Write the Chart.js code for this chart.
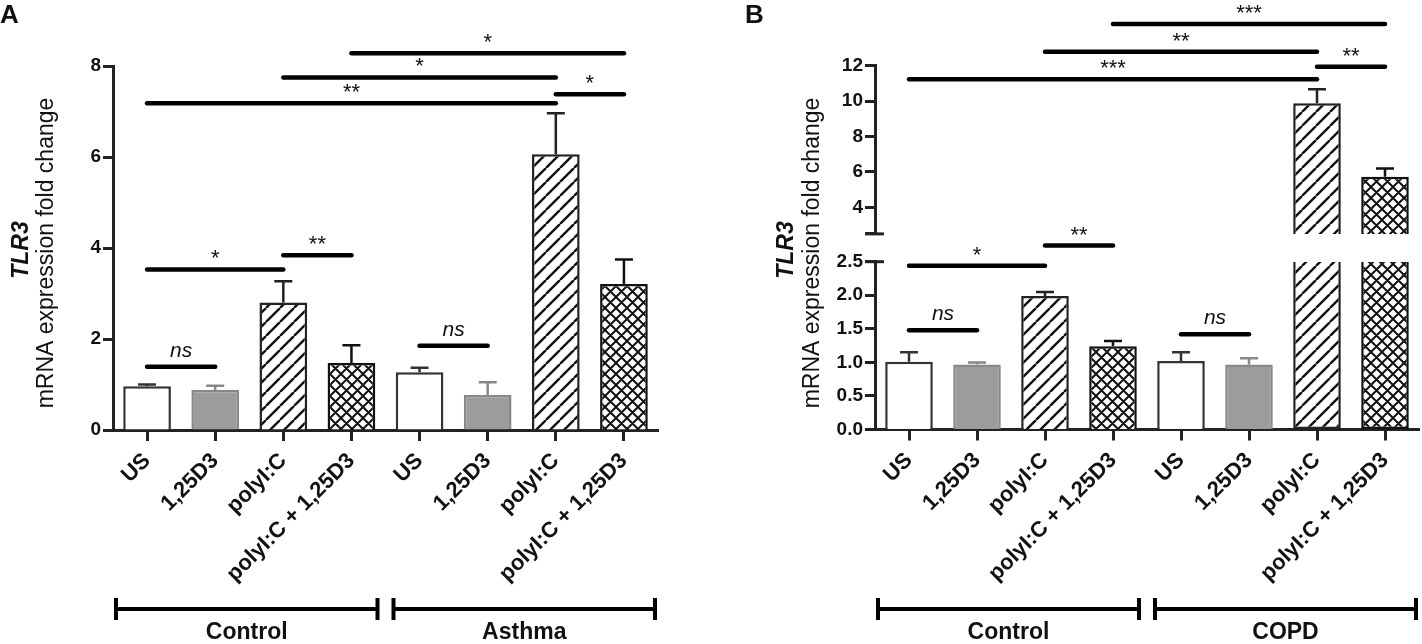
<!DOCTYPE html>
<html>
<head>
<meta charset="utf-8">
<script src="https://cdn.jsdelivr.net/npm/chart.js"></script>
<style>
  body { margin: 0; background: #fff; }
  #wrap { position: relative; width: 1422px; height: 644px; overflow: hidden; }
  canvas { position: absolute; top: 0; }
</style>
</head>
<body>
<div id="wrap">
  <canvas id="chartA" width="700" height="644" style="left:0"></canvas>
  <canvas id="chartBHigh" width="722" height="644" style="left:700px"></canvas>
  <canvas id="chartBLow" width="722" height="644" style="left:700px"></canvas>
</div>
<script>
// ---- data ----
const categories = ['US', '1,25D3', 'polyI:C', 'polyI:C + 1,25D3', 'US', '1,25D3', 'polyI:C', 'polyI:C + 1,25D3'];
const groupsA = ['Control', 'Asthma'];
const groupsB = ['Control', 'COPD'];

const meanA = [0.96, 0.88, 2.80, 1.47, 1.27, 0.77, 6.06, 3.21];
const errA  = [0.04, 0.09, 0.47, 0.39, 0.10, 0.28, 0.90, 0.54];
const meanB = [1.01, 0.97, 1.99, 1.24, 1.02, 0.97, 9.88, 5.73];
const errB  = [0.14, 0.03, 0.06, 0.08, 0.13, 0.09, 0.79, 0.47];

const ticksA = [0, 2, 4, 6, 8];
const ticksBLow = [0, 0.5, 1, 1.5, 2, 2.5];
const ticksBHigh = [2.5, 4, 6, 8, 10, 12];

// [from index, to index, y value, label]
const sigA = [
  [0, 1, 1.39, 'ns'], [0, 2, 3.53, '*'], [2, 3, 3.84, '**'], [4, 5, 1.85, 'ns'],
  [0, 6, 7.18, '**'], [2, 6, 7.75, '*'], [3, 7, 8.28, '*'], [6, 7, 7.38, '*']
];
const sigB = [
  [0, 1, 1.48, 'ns'], [0, 2, 2.44, '*'], [2, 3, 2.74, '**'], [4, 5, 1.42, 'ns'],
  [0, 6, 11.23, '***'], [2, 6, 12.79, '**'], [3, 7, 14.36, '***'], [6, 7, 11.94, '**']
];

// ---- styling ----
const FONT = '"Liberation Sans", Arial, Helvetica, sans-serif';

function makePattern(size, cross) {
  const c = document.createElement('canvas');
  c.width = c.height = size;
  const g = c.getContext('2d');
  g.fillStyle = '#fff';
  g.fillRect(0, 0, size, size);
  g.strokeStyle = '#111';
  g.lineWidth = cross ? 2 : 2.4;
  g.beginPath();
  for (let k = -1; k <= 1; k++) {
    g.moveTo(k * size, size); g.lineTo(k * size + size, 0);
    if (cross) { g.moveTo(k * size, 0); g.lineTo(k * size + size, size); }
  }
  g.stroke();
  return g.createPattern(c, 'repeat');
}
const hatch = makePattern(14, false);
const crossHatch = makePattern(11, true);

const fills = ['#ffffff', '#9c9c9c', hatch, crossHatch, '#ffffff', '#9c9c9c', hatch, crossHatch];
const edges = ['#333333', '#888888', '#222222', '#111111', '#333333', '#888888', '#222222', '#111111'];

// ---- plugins ----
function sigPlugin(sigs, keep) {
  return {
    id: 'sig',
    afterDraw(chart) {
      const { ctx, scales: { x, y } } = chart;
      ctx.save();
      sigs.forEach(([i, j, v, lab]) => {
        if (!keep(v)) return;
        const x1 = x.getPixelForValue(i), x2 = x.getPixelForValue(j), py = y.getPixelForValue(v);
        ctx.strokeStyle = '#000';
        ctx.lineWidth = 4.5;
        ctx.lineCap = 'round';
        ctx.beginPath(); ctx.moveTo(x1, py); ctx.lineTo(x2, py); ctx.stroke();
        ctx.fillStyle = '#111';
        ctx.textAlign = 'center';
        ctx.textBaseline = 'alphabetic';
        if (lab === 'ns') {
          ctx.font = 'italic 21px ' + FONT;
          ctx.fillText(lab, (x1 + x2) / 2, py - 10);
        } else {
          ctx.font = '22px ' + FONT;
          ctx.fillText(lab, (x1 + x2) / 2, py - 4);
        }
      });
      ctx.restore();
    }
  };
}

function errPlugin(means, errs, keep) {
  return {
    id: 'err',
    afterDatasetsDraw(chart) {
      const { ctx, scales: { y } } = chart;
      const bars = chart.getDatasetMeta(0).data;
      ctx.save();
      ctx.lineWidth = 2.5;
      bars.forEach((bar, i) => {
        if (!keep(means[i])) return;
        const base = y.getPixelForValue(means[i]);
        const top = y.getPixelForValue(means[i] + errs[i]);
        ctx.strokeStyle = edges[i];
        ctx.beginPath();
        ctx.moveTo(bar.x, base); ctx.lineTo(bar.x, top);
        ctx.moveTo(bar.x - 9, top); ctx.lineTo(bar.x + 9, top);
        ctx.stroke();
      });
      ctx.restore();
    }
  };
}

function groupPlugin(groups) {
  return {
    id: 'groups',
    afterDraw(chart) {
      const { ctx, chartArea, scales: { x } } = chart;
      const mid = (x.getPixelForValue(3) + x.getPixelForValue(4)) / 2;
      const spans = [[chartArea.left + 3, mid - 8], [mid + 8, chartArea.right - 3]];
      const yLine = 609;
      ctx.save();
      ctx.strokeStyle = '#000';
      ctx.lineWidth = 4;
      ctx.lineCap = 'butt';
      spans.forEach(([a, b], g) => {
        ctx.beginPath();
        ctx.moveTo(a, yLine); ctx.lineTo(b, yLine);
        ctx.moveTo(a, yLine - 11); ctx.lineTo(a, yLine + 11);
        ctx.moveTo(b, yLine - 11); ctx.lineTo(b, yLine + 11);
        ctx.stroke();
        ctx.fillStyle = '#111';
        ctx.font = 'bold 23px ' + FONT;
        ctx.textAlign = 'center';
        ctx.textBaseline = 'middle';
        ctx.fillText(groups[g], (a + b) / 2, 633);
      });
      ctx.restore();
    }
  };
}

function titlePlugin(letter, letterX, tx, mx) {
  return {
    id: 'titles',
    afterDraw(chart) {
      const { ctx } = chart;
      ctx.save();
      ctx.fillStyle = '#111';
      ctx.font = 'bold 26px ' + FONT;
      ctx.textAlign = 'left';
      ctx.textBaseline = 'top';
      ctx.fillText(letter, letterX, 3);
      ctx.textAlign = 'center';
      ctx.textBaseline = 'middle';
      ctx.translate(tx, 250); ctx.rotate(-Math.PI / 2);
      ctx.font = 'italic bold 23px ' + FONT;
      ctx.fillText('TLR3', 0, 0);
      ctx.restore();
      ctx.save();
      ctx.fillStyle = '#111';
      ctx.textAlign = 'center';
      ctx.textBaseline = 'middle';
      ctx.translate(mx, 253); ctx.rotate(-Math.PI / 2);
      ctx.font = '23px ' + FONT;
      ctx.fillText('mRNA expression fold change', 0, 0);
      ctx.restore();
    }
  };
}

function breakPlugin(atTop) {
  return {
    id: 'break',
    afterDraw(chart) {
      const { ctx, chartArea } = chart;
      const yy = atTop ? chartArea.top : chartArea.bottom;
      ctx.save();
      ctx.strokeStyle = '#222';
      ctx.lineWidth = 3;
      ctx.beginPath();
      ctx.moveTo(chartArea.left - 10, yy); ctx.lineTo(chartArea.left + 9, yy);
      ctx.stroke();
      ctx.restore();
    }
  };
}

// ---- chart builder ----
function yAxis(min, max, ticks, width, fmt) {
  return {
    min, max,
    afterBuildTicks: s => { s.ticks = ticks.map(v => ({ value: v })); },
    afterFit: s => { s.width = width; },
    ticks: {
      font: { family: FONT, size: 19, weight: 'bold' }, color: '#111', padding: 2,
      callback: fmt
    },
    grid: { drawOnChartArea: false, tickLength: 10, tickWidth: 3, tickColor: '#222' },
    border: { width: 3, color: '#222' }
  };
}

function xAxis(show, height) {
  return {
    display: show,
    offset: true,
    afterFit: s => { s.height = height; },
    grid: { offset: false, drawOnChartArea: false, tickLength: 11, tickWidth: 3, tickColor: '#222' },
    border: { width: 3, color: '#222' },
    ticks: {
      autoSkip: false, minRotation: 45, maxRotation: 45, padding: 7,
      font: { family: FONT, size: 22, weight: 'bold' }, color: '#111'
    }
  };
}

function barChart(id, data, skipped, padding, x, y, plugins) {
  return new Chart(document.getElementById(id), {
    type: 'bar',
    data: {
      labels: categories,
      datasets: [{
        data,
        backgroundColor: fills,
        borderColor: edges,
        borderWidth: 2.5,
        borderSkipped: skipped,
        barPercentage: 0.7,
        categoryPercentage: 1.0
      }]
    },
    options: {
      responsive: false,
      animation: false,
      layout: { padding },
      plugins: { legend: { display: false }, tooltip: { enabled: false } },
      scales: { x, y }
    },
    plugins
  });
}

// Panel A
barChart('chartA', meanA, 'start',
  { left: 0, right: 42, top: 66, bottom: 0 },
  xAxis(true, 214),
  yAxis(0, 8, ticksA, 113, v => String(v)),
  [errPlugin(meanA, errA, () => true), sigPlugin(sigA, () => true),
   groupPlugin(groupsA), titlePlugin('A', 0, 22, 47)]
);

// Panel B, upper segment (broken axis)
const highMin = ticksBHigh[0];
const lowMax = ticksBLow[ticksBLow.length - 1];
barChart('chartBHigh', meanB.map(v => v > highMin ? [highMin, v] : null), 'bottom',
  { left: 0, right: 3, top: 65.7, bottom: 644 - 233.9 },
  xAxis(false, 0),
  yAxis(highMin, 12, ticksBHigh, 175, v => v === highMin ? '' : String(v)),
  [errPlugin(meanB, errB, v => v > highMin), sigPlugin(sigB, v => v >= 3),
   breakPlugin(false), titlePlugin('B', 45, 87, 113)]
);

// Panel B, lower segment
barChart('chartBLow', meanB.map(v => Math.min(v, lowMax)),
  c => meanB[c.dataIndex] > lowMax ? 'top' : 'start',
  { left: 0, right: 3, top: 261.7, bottom: 0 },
  xAxis(true, 214.5),
  yAxis(0, lowMax, ticksBLow, 175, v => Number(v).toFixed(1)),
  [errPlugin(meanB, errB, v => v <= lowMax), sigPlugin(sigB, v => v < 3),
   groupPlugin(groupsB), breakPlugin(true)]
);
</script>
</body>
</html>
